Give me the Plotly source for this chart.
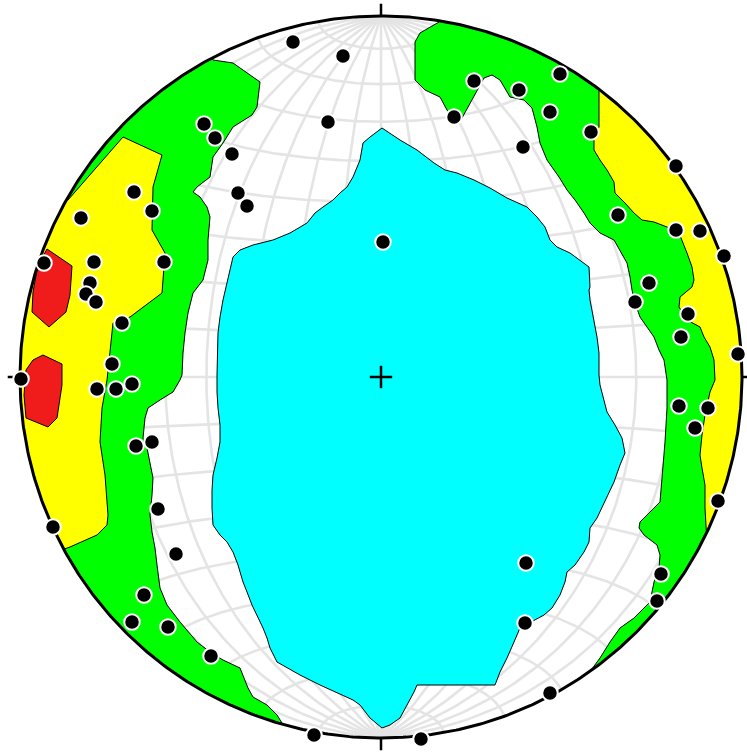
import numpy as np
import plotly.graph_objects as go

# Lower-hemisphere equal-area (Schmidt) net: pole density contours and poles.
# Positions are east / north offsets on the net, in digitizing units,
# with the primitive circle at NET_RADIUS.
NET_RADIUS = 361.0

# Poles to planes
pole_east = [-88, -38, -53, -177, -166, -149, -143, -134, -247, -229,
             -300, -287, -217, -337, -291, -295, -285, -259, -269, -284,
             -265, -249, -360, 2, -245, -229, -223, -205, -237, -249,
             -213, -170, -328, -67, 93, 73, 138, 179, 169, 210,
             142, 295, 237, 295, 319, 343, 268, 254, 307, 300,
             357, 298, 327, 314, 337, 145, 280, 276, 144, 169,
             40]
pole_north = [335, 321, 255, 253, 239, 223, 184, 171, 185, 166,
              159, 115, 115, 114, 94, 83, 75, 54, 13, -12,
              -12, -7, -2, 135, -69, -65, -132, -177, -218, -245,
              -250, -279, -150, -358, 296, 260, 287, 303, 265, 245,
              230, 211, 162, 147, 146, 121, 94, 75, 63, 40,
              23, -29, -31, -51, -124, -186, -197, -224, -246, -316,
              -362]

# Contour outlines. Bands along the primitive list only their inner edge;
# they are closed along the primitive circle.
west_mid_east = [-168, -148, -121, -124, -129, -141, -148, -158, -168, -171,
                 -184, -188, -181, -174, -171, -173, -173, -178, -188, -193,
                 -196, -198, -199, -201, -208, -221, -233, -236, -238, -234,
                 -231, -228, -229, -231, -229, -226, -224, -221, -214, -201,
                 -184, -171, -158, -141, -133, -128, -114, -104, -99]
west_mid_north = [317, 314, 295, 270, 262, 254, 250, 234, 220, 200,
                  190, 185, 180, 170, 160, 137, 117, 97, 84, 64,
                  44, 24, 2, -3, -15, -23, -31, -41, -61, -71,
                  -85, -101, -118, -138, -155, -171, -188, -211, -228, -245,
                  -265, -275, -283, -291, -311, -320, -328, -338, -346]

west_high_east = [-313, -258, -219, -228, -229, -216, -219, -251, -268, -271,
                  -274, -279, -281, -276, -273, -274, -284, -311, -317]
west_high_north = [177, 240, 222, 190, 147, 124, 84, 60, 54, 27,
                   -3, -31, -65, -98, -138, -148, -158, -170, -172]

peak1_east = [-334, -309, -311, -315, -332, -349, -348, -343]
peak1_north = [128, 111, 82, 65, 50, 65, 85, 112]

peak2_east = [-338, -319, -319, -324, -333, -355, -357, -355, -348]
peak2_north = [22, 13, -8, -41, -50, -41, -18, 7, 17]

east_mid_east = [58, 39, 34, 34, 44, 59, 66, 73, 81, 93,
                 103, 111, 119, 129, 143, 151, 156, 159, 166, 178,
                 186, 194, 203, 209, 219, 233, 239, 246, 249, 251,
                 254, 259, 266, 273, 278, 283, 286, 286, 284, 281,
                 279, 269, 259, 258, 263, 276, 279, 278, 273, 269,
                 253, 239, 229, 219, 208]
east_mid_north = [355, 344, 335, 297, 287, 280, 267, 257, 259, 280,
                  299, 302, 297, 280, 277, 269, 250, 234, 217, 200,
                  187, 177, 164, 154, 144, 137, 127, 114, 100, 87,
                  74, 60, 50, 40, 27, 17, -3, -31, -65, -98,
                  -125, -135, -145, -151, -158, -168, -178, -191, -205, -225,
                  -241, -251, -265, -281, -296]

east_high_east = [218, 218, 213, 213, 219, 226, 233, 234, 244, 253,
                  261, 273, 286, 298, 306, 311, 313, 311, 299, 298,
                  306, 319, 323, 329, 333, 334, 329, 324, 321, 319,
                  321, 324, 324, 325]
east_high_north = [287, 250, 237, 227, 217, 207, 195, 184, 174, 164,
                   157, 155, 150, 144, 124, 110, 97, 90, 80, 70,
                   57, 50, 40, 30, 17, -3, -15, -38, -58, -78,
                   -91, -108, -131, -156]

low_east = [1, 19, 36, 53, 64, 76, 93, 109, 126, 146,
            156, 164, 169, 176, 189, 199, 208, 209, 208, 209,
            213, 216, 218, 218, 219, 223, 226, 234, 241, 244,
            239, 233, 224, 216, 209, 208, 203, 194, 186, 184,
            179, 171, 163, 154, 139, 133, 126, 119, 114, 36,
            33, 26, 19, 9, 1, -11, -21, -28, -44, -61,
            -81, -94, -104, -111, -114, -118, -123, -129, -134, -138,
            -143, -148, -154, -161, -168, -169, -169, -168, -164, -161,
            -161, -163, -164, -164, -163, -161, -158, -154, -151, -148,
            -141, -128, -108, -91, -74, -66, -58, -48, -41, -34,
            -28, -21, -18, -11]
low_north = [249, 237, 227, 214, 207, 204, 197, 189, 179, 170,
             160, 150, 137, 130, 124, 117, 110, 90, 87, 77,
             57, 40, 24, 2, -8, -25, -35, -48, -61, -76,
             -88, -105, -125, -141, -151, -165, -175, -188, -195, -205,
             -218, -231, -238, -243, -251, -265, -281, -295, -308, -308,
             -315, -328, -341, -348, -351, -341, -328, -323, -316, -308,
             -298, -291, -285, -271, -261, -251, -241, -228, -215, -205,
             -188, -175, -165, -158, -148, -131, -113, -98, -81, -65,
             -48, -31, -15, 2, 44, 60, 77, 94, 110, 120,
             127, 132, 137, 144, 154, 164, 170, 177, 184, 190,
             200, 217, 234, 240]

COLOR_LOW = "#00ffff"
COLOR_MID = "#00ff00"
COLOR_HIGH = "#ffff00"
COLOR_PEAK = "#f01c1c"
GRID_COLOR = "#e4e4e4"


def norm(values):
    return np.asarray(values, dtype=float) / NET_RADIUS


def schmidt(lon_deg, lat_deg):
    """Equatorial Lambert equal-area projection scaled to a unit primitive."""
    lon = np.radians(lon_deg)
    lat = np.radians(lat_deg)
    k = np.sqrt(2.0 / (1.0 + np.cos(lat) * np.cos(lon)))
    return (k * np.cos(lat) * np.sin(lon) / np.sqrt(2.0),
            k * np.sin(lat) / np.sqrt(2.0))


def band(east, north, west_side):
    """Close an edge band: inner boundary, then back along the primitive."""
    x, y = norm(east), norm(north)
    a_first = np.arctan2(y[0], x[0])
    a_last = np.arctan2(y[-1], x[-1])
    if west_side:
        a_first, a_last = np.mod(a_first, 2 * np.pi), np.mod(a_last, 2 * np.pi)
    arc = np.linspace(a_last, a_first, 120)
    return (np.concatenate([x, np.cos(arc), x[:1]]),
            np.concatenate([y, np.sin(arc), y[:1]]))


def closed(east, north):
    x, y = norm(east), norm(north)
    return np.append(x, x[0]), np.append(y, y[0])


fig = go.Figure()

# Net grid: great circles through N/S and small circles about the N-S axis
gx, gy = [], []
steps = np.linspace(-90, 90, 181)
for lon in range(-80, 81, 10):
    x, y = schmidt(np.full_like(steps, lon), steps)
    gx += list(x) + [None]
    gy += list(y) + [None]
for lat in range(-80, 81, 10):
    x, y = schmidt(steps, np.full_like(steps, lat))
    gx += list(x) + [None]
    gy += list(y) + [None]
fig.add_trace(go.Scatter(x=gx, y=gy, mode="lines",
                         line=dict(color=GRID_COLOR, width=2.6),
                         hoverinfo="skip"))

# Density contours
regions = [
    (band(west_mid_east, west_mid_north, True), COLOR_MID),
    (band(west_high_east, west_high_north, True), COLOR_HIGH),
    (closed(peak1_east, peak1_north), COLOR_PEAK),
    (closed(peak2_east, peak2_north), COLOR_PEAK),
    (band(east_mid_east, east_mid_north, False), COLOR_MID),
    (band(east_high_east, east_high_north, False), COLOR_HIGH),
    (closed(low_east, low_north), COLOR_LOW),
]
for (x, y), color in regions:
    fig.add_trace(go.Scatter(x=x, y=y, mode="lines", fill="toself",
                             fillcolor=color,
                             line=dict(color="black", width=1),
                             hoverinfo="skip"))

# Primitive circle
t = np.linspace(0, 2 * np.pi, 721)
fig.add_trace(go.Scatter(x=np.cos(t), y=np.sin(t), mode="lines",
                         line=dict(color="black", width=3),
                         hoverinfo="skip"))

# N, E, S, W ticks and centre cross
tick = 1.034
arm = 0.031
mx = [0, 0, None, 1, tick, None, 0, 0, None, -1, -tick, None,
      -arm, arm, None, 0, 0]
my = [1, tick, None, 0, 0, None, -1, -tick, None, 0, 0, None,
      0, 0, None, -arm, arm]
fig.add_trace(go.Scatter(x=mx, y=my, mode="lines",
                         line=dict(color="black", width=2.5),
                         hoverinfo="skip"))

# Poles
fig.add_trace(go.Scatter(x=norm(pole_east), y=norm(pole_north),
                         mode="markers",
                         marker=dict(size=15.5, color="black",
                                     line=dict(color="white", width=2)),
                         hoverinfo="skip"))

W, H = 747, 755
cx, cy = 381.0, 377.0
fig.update_layout(
    width=W, height=H,
    margin=dict(l=0, r=0, t=0, b=0),
    paper_bgcolor="white", plot_bgcolor="white",
    showlegend=False,
    xaxis=dict(range=[-cx / NET_RADIUS, (W - cx) / NET_RADIUS],
               visible=False, fixedrange=True),
    yaxis=dict(range=[-(H - cy) / NET_RADIUS, cy / NET_RADIUS],
               visible=False, fixedrange=True),
)

fig.write_html("out.html", config={"displayModeBar": False})
